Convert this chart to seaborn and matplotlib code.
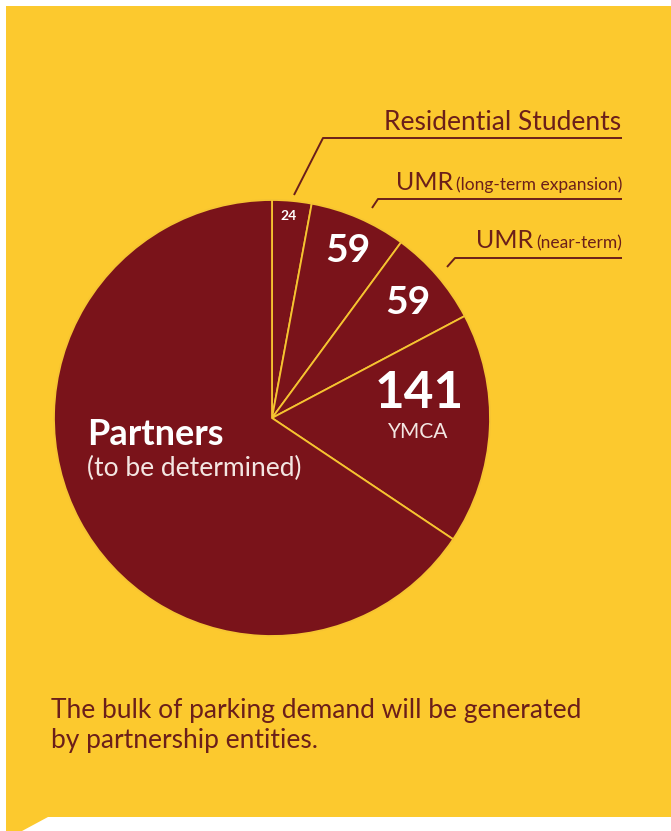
import matplotlib
matplotlib.use("Agg")
import matplotlib.pyplot as plt
import seaborn as sns
from matplotlib.patches import Polygon

# parking demand by entity (spaces)
labels = ["Residential Students", "UMR (long-term expansion)", "UMR (near-term)", "YMCA", "Partners"]
values = [24, 59, 59, 141, 540]
value_text = ["24", "59", "59", "141", ""]

YELLOW = "#FCC92E"
RED = "#7A131A"
TEXT = "#6B1F1A"

sns.set_theme(style="white")
plt.rcParams["font.family"] = ["Lato", "DejaVu Sans"]

fig = plt.figure(figsize=(6.71, 8.31), dpi=100, facecolor="white")
ax = fig.add_axes([0, 0, 1, 1])
H = 831
Y = lambda y: H - y  # pixel rows -> data y

# yellow card with small tail at bottom left
card = Polygon([(6, Y(6)), (671, Y(6)), (671, Y(817)), (48, Y(817)), (22, Y(831)), (6, Y(831))],
               closed=True, facecolor=YELLOW, edgecolor="none", zorder=0)
ax.add_patch(card)

ax.pie(values, startangle=90, counterclock=False, center=(272, Y(418)), radius=218,
       colors=[RED] * len(values),
       wedgeprops=dict(edgecolor="#F6C431", linewidth=1.3, zorder=2))

ax.set_xlim(0, 671)
ax.set_ylim(0, H)
ax.set_aspect("equal")
ax.axis("off")

# values inside the slices
ax.text(289, Y(216), value_text[0], color="white", fontsize=10, fontweight="bold", ha="center", va="center", zorder=5)
ax.text(348, Y(251), value_text[1], color="white", fontsize=28, fontweight="bold", ha="center", va="center", zorder=5)
ax.text(408, Y(302), value_text[2], color="white", fontsize=28, fontweight="bold", ha="center", va="center", zorder=5)
ax.text(419, Y(393), value_text[3], color="white", fontsize=37, fontweight="bold", ha="center", va="center", zorder=5)
ax.text(418, Y(432), labels[3], color="#F3E6E2", fontsize=15, ha="center", va="center", zorder=5)
ax.text(87, Y(445), labels[4], color="white", fontsize=26, fontweight="bold", ha="left", va="baseline", zorder=5)
ax.text(87, Y(476), "(to be determined)", color="#F3E6E2", fontsize=19, ha="left", va="baseline", zorder=5)

# callouts for the small slices
lw = 1.4
ax.text(621, Y(130), labels[0], color=TEXT, fontsize=19, ha="right", va="baseline")
ax.plot([622, 323, 294], [Y(138), Y(138), Y(195)], color=TEXT, lw=lw, solid_capstyle="butt")

ax.text(453, Y(190), "UMR", color=TEXT, fontsize=18, ha="right", va="baseline")
ax.text(622, Y(190), "(long-term expansion)", color=TEXT, fontsize=12.5, ha="right", va="baseline")
ax.plot([622, 378, 372], [Y(199), Y(199), Y(208)], color=TEXT, lw=lw, solid_capstyle="butt")

ax.text(533, Y(248), "UMR", color=TEXT, fontsize=18, ha="right", va="baseline")
ax.text(622, Y(248), "(near-term)", color=TEXT, fontsize=12.5, ha="right", va="baseline")
ax.plot([622, 455, 447], [Y(258), Y(258), Y(267)], color=TEXT, lw=lw, solid_capstyle="butt")

# caption
ax.text(51, Y(718), "The bulk of parking demand will be generated", color=TEXT, fontsize=19, ha="left", va="baseline")
ax.text(51, Y(748), "by partnership entities.", color=TEXT, fontsize=19, ha="left", va="baseline")

plt.savefig("out.png", dpi=100, facecolor="white")
plt.close()
